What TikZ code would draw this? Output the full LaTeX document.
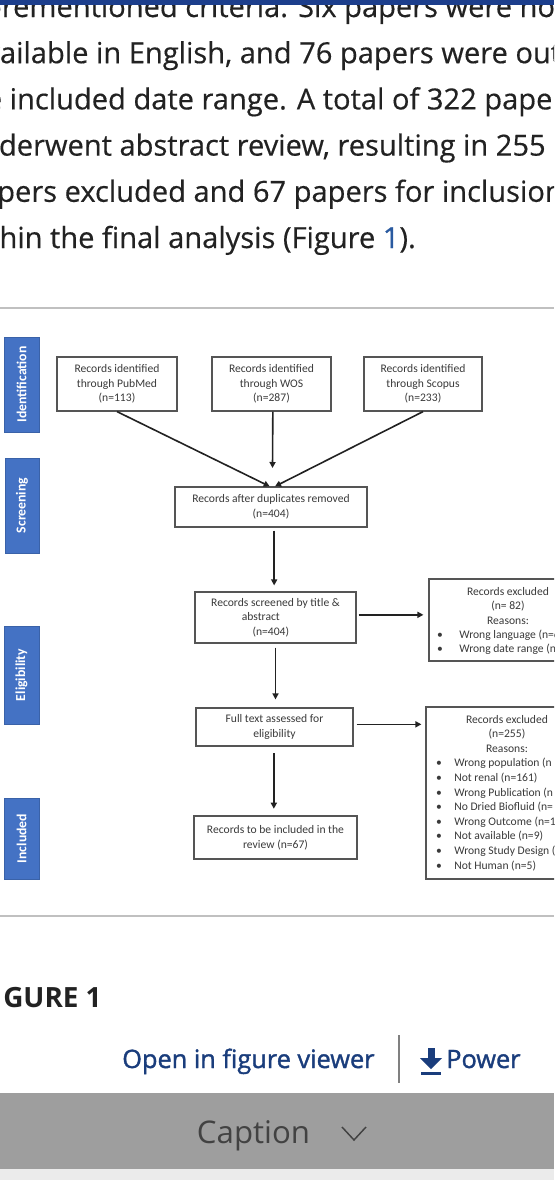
\documentclass[tikz,border=0pt]{standalone}
\usepackage{fontspec}
\setmainfont{Open Sans}
\newfontfamily\carl{Carlito}
\newfontfamily\osemi[FakeBold=1.4]{Open Sans}
\newfontfamily\opara[FakeBold=0.4]{Open Sans}
\usetikzlibrary{arrows.meta}
\definecolor{txt}{HTML}{222222}
\definecolor{topblue}{HTML}{1C3E8C}
\definecolor{linkb}{HTML}{2A5AA0}
\definecolor{linkd}{HTML}{1A3D7C}
\definecolor{boxc}{HTML}{555555}
\definecolor{arrc}{HTML}{222222}
\definecolor{dtxt}{HTML}{3A3A3A}
\definecolor{sidef}{HTML}{4472C4}
\definecolor{sideb}{HTML}{3A62A8}
\definecolor{sepc}{HTML}{C0C0C0}
\definecolor{capbar}{HTML}{9E9E9E}
\definecolor{capt}{HTML}{424242}
\tikzset{
  para/.style={anchor=base west, inner sep=0, text=txt, font=\opara\fontsize{21.8pt}{25pt}\selectfont},
  box/.style={draw=boxc, line width=0.9pt, fill=white, inner sep=0, align=center, text=dtxt,
    font=\carl\fontsize{8.7pt}{10.9pt}\selectfont},
  sidebox/.style={draw=sideb, fill=sidef, line width=0.6pt, text=white, rotate=90, inner sep=0,
    font=\carl\bfseries\fontsize{10.3pt}{12pt}\selectfont},
  arr/.style={draw=arrc, line width=1.2pt, -{Triangle[length=4.5pt,width=4.5pt]}},
  ext/.style={inner sep=0, text=dtxt, font=\carl\fontsize{8.7pt}{10.9pt}\selectfont, anchor=base},
  exl/.style={ext, anchor=base west},
}
\begin{document}
\begin{tikzpicture}[x=0.75pt,y=-0.75pt]
\useasboundingbox (0,0) rectangle (554,1200);
\clip (0,0) rectangle (554,1200);
\fill[white] (0,0) rectangle (554,1200);

% paragraph
\node[para] (p1) at (-42,17) {aforementioned criteria. Six papers were not};
\node[para] (p2) at (-31,63.2) {available in English, and 76 papers were out};
\node[para] (p3) at (-42.5,109.4) {the included date range. A total of 322 papers};
\node[para] (p4) at (-37,155.6) {underwent abstract review, resulting in 255};
\node[para] (p5) at (-37,201.8) {papers excluded and 67 papers for inclusion};
\node[para] (p6) at (-41,248) {within the final analysis (Figure \textcolor{linkb}{1}).};
\fill[topblue] (0,0) rectangle (554,5);

% separators
\draw[sepc, line width=1.5pt] (0,308) -- (554,308);
\draw[sepc, line width=1.5pt] (0,916) -- (554,916);

% side labels
\node[sidebox, minimum width=95*0.75pt, minimum height=35*0.75pt] (sid) at (21.5,384.5) {Identification};
\node[sidebox, minimum width=95*0.75pt, minimum height=34*0.75pt] (ssc) at (22,505.5) {Screening};
\node[sidebox, minimum width=98*0.75pt, minimum height=35*0.75pt] (sel) at (21.5,675) {Eligibility};
\node[sidebox, minimum width=81*0.75pt, minimum height=35*0.75pt] (sin) at (21.5,838.5) {Included};

% boxes
\node[box, minimum width=120*0.75pt, minimum height=54*0.75pt] (pub) at (117,384) {Records identified\\through PubMed\\(n=113)};
\node[box, minimum width=119*0.75pt, minimum height=54*0.75pt] (wos) at (271.5,384) {Records identified\\through WOS\\(n=287)};
\node[box, minimum width=118*0.75pt, minimum height=54*0.75pt] (sco) at (423,384) {Records identified\\through Scopus\\(n=233)};
\node[box, minimum width=192*0.75pt, minimum height=40*0.75pt] (dup) at (271,507) {Records after duplicates removed\\(n=404)};
\node[box, minimum width=161*0.75pt, minimum height=51*0.75pt] (scr) at (275.5,617.5) {Records screened by title \&\\abstract\hspace{22pt}\mbox{}\\(n=404)\hspace{7pt}\mbox{}};
\node[box, minimum width=157*0.75pt, minimum height=38*0.75pt] (ft) at (274.5,727) {Full text assessed for\\eligibility};
\node[box, minimum width=163*0.75pt, minimum height=43*0.75pt] (inc) at (275.5,837.5) {Records to be included in the\\review (n=67)};
\node[box, minimum width=158*0.75pt, minimum height=82*0.75pt] (ex1) at (508,620) {};
\node[box, minimum width=164*0.75pt, minimum height=172*0.75pt] (ex2) at (508,793) {};

% excluded 1 text
\node[ext] (e1a) at (508,595.5) {Records excluded};
\node[ext] (e1b) at (508,609.8) {(n= 82)};
\node[ext] (e1c) at (508,624) {Reasons:};
\node[ext] (e1d) at (440,638.3) {•};
\node[exl] (e1e) at (459,638.3) {Wrong language (n=6)};
\node[ext] (e1f) at (440,652.6) {•};
\node[exl] (e1g) at (459,652.6) {Wrong date range (n=76)};

% excluded 2 text
\node[ext] (e2a) at (507,723) {Records excluded};
\node[ext] (e2b) at (507,737.6) {(n=255)};
\node[ext] (e2c) at (507,752.2) {Reasons:};
\foreach \t [count=\i from 0] in {Wrong population (n,Not renal (n=161),Wrong Publication (n,No Dried Biofluid (n=,Wrong Outcome (n=1,Not available (n=9),Wrong Study Design (,Not Human (n=5)}{
  \node[ext] (b\i) at (439,766.8+14.6*\i) {•};
  \node[exl] (l\i) at (454,766.8+14.6*\i) {\t};
}

% connectors
\coordinate (wosend) at (272.5,468);
\draw[arr] (pub.south) -- ([xshift=-1pt]dup.north);
\draw[arr] ([xshift=1pt]wos.south) -- (wosend);
\draw[arr] (sco.south) -- ([xshift=3pt]dup.north);
\draw[arr, shorten <=2.25pt, shorten >=4.5pt] ([xshift=-1pt]scr.north |- dup.south) -- ([xshift=-1pt]scr.north);
\draw[arr, shorten <=3pt, shorten >=6pt] (scr.south) -- (scr.south |- ft.north);
\draw[arr, shorten <=5pt, shorten >=5pt] ([xshift=-0.5pt]ft.south) -- ([xshift=-0.5pt]ft.south |- inc.north);
\draw[arr, shorten <=1.5pt, shorten >=3.75pt] ([yshift=2pt]scr.east) -- ([yshift=2pt]scr.east -| ex1.west);
\draw[arr, shorten <=2.25pt, shorten >=3pt] ([yshift=2pt]ft.east) -- ([yshift=2pt]ft.east -| ex2.west);

% bottom section
\node[anchor=base west, inner sep=0, font=\bfseries\fontsize{20.9pt}{24pt}\selectfont, text=txt] (fig) at (3,1007) {GURE 1};
\node[anchor=base west, inner sep=0, font=\osemi\fontsize{19pt}{23pt}\selectfont, text=linkd] (open) at (122,1068) {Open in figure viewer};
\draw[gray, line width=1.1pt] (399,1035) -- (399,1083);
\fill[linkd] (427.5,1048) rectangle (434.5,1059);
\fill[linkd] (420,1058) -- (442,1058) -- (431,1069) -- cycle;
\fill[linkd] (421,1072) rectangle (441,1075);
\node[anchor=base west, inner sep=0, font=\osemi\fontsize{19pt}{23pt}\selectfont, text=linkd] (pow) at (446,1068) {Power};

\fill[capbar] (0,1093) rectangle (554,1169);
\fill[black!8] (0,1169) rectangle (554,1180);
\node[anchor=base, inner sep=0, font=\fontsize{23.4pt}{28pt}\selectfont, text=capt] (cap) at (253.5,1143) {Caption};
\draw[capt, line width=1.1pt] (342,1127) -- (354,1140) -- (366,1127);
\end{tikzpicture}
\end{document}
